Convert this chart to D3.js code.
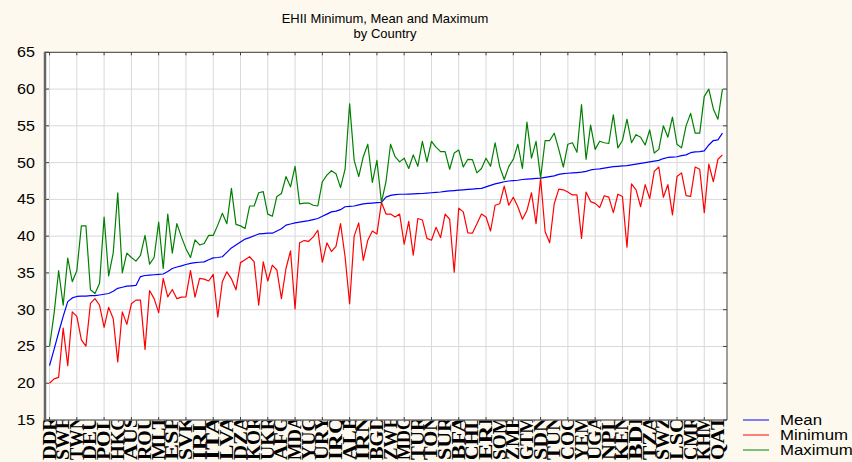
<!DOCTYPE html>
<html><head><meta charset="utf-8">
<script src="https://cdn.jsdelivr.net/npm/d3@7"></script>
<style>html,body{margin:0;padding:0;background:#fdf9ef;} svg{display:block;}</style>
</head><body><svg id="c" width="852" height="462"></svg>
<script>
const titleLines = ["EHII Minimum, Mean and Maximum", "by Country"];
const yTicks = [15, 20, 25, 30, 35, 40, 45, 50, 55, 60, 65];
// every third country code is legible on the axis
const countryLabels = ["DDR","SWE","TWN","DEU","POL","HKG","AUS","ROU","MLT","ESP",
  "SVK","IRL","ITA","LVA","DZA","KOR","UKR","AFG","MDA","YUG",
  "URY","IRQ","ALB","IRN","BGD","ZWE","MDG","TUR","TON","SUR",
  "BFA","CHL","ERI","SOM","ZMB","GTM","SDN","TUN","COG","YEM",
  "UGA","NPL","KEN","BDI","TZA","SWZ","LSO","CMR","KHM","QAT"];
const seriesNames = ["Mean", "Minimum", "Maximum"];
const seriesColors = ["#0000ff", "#ff0000", "#008000"];

const meanValues = [22.4,24.6,26.9,29.1,31.1,31.6,31.8,31.85,31.85,31.9,
 31.9,32.0,32.1,32.2,32.5,32.9,33.05,33.2,33.25,33.3,
 34.5,34.65,34.7,34.75,34.8,34.85,35.2,35.6,35.8,35.95,
 36.15,36.3,36.4,36.45,36.5,36.8,37.05,37.1,37.2,37.8,
 38.4,38.8,39.2,39.6,39.8,40.05,40.3,40.35,40.4,40.4,
 40.7,41.0,41.5,41.65,41.8,41.9,42.0,42.1,42.25,42.4,
 42.7,43.0,43.3,43.4,43.6,44.0,44.05,44.1,44.25,44.4,
 44.45,44.5,44.55,44.6,45.3,45.55,45.65,45.7,45.7,45.72,
 45.75,45.77,45.8,45.85,45.9,45.95,46.0,46.1,46.15,46.2,
 46.25,46.3,46.35,46.4,46.45,46.5,46.7,46.9,47.1,47.25,
 47.4,47.5,47.55,47.6,47.7,47.75,47.8,47.85,47.9,48.0,
 48.1,48.2,48.4,48.5,48.55,48.6,48.65,48.7,48.8,49.0,
 49.1,49.15,49.25,49.35,49.45,49.5,49.55,49.6,49.7,49.8,
 49.9,50.0,50.1,50.2,50.3,50.55,50.7,50.75,50.8,50.95,
 51.05,51.35,51.45,51.5,51.6,52.4,53.0,53.1,54.0];
const minValues = [20.0,20.6,20.8,27.5,22.4,29.7,29.1,25.9,25.05,30.85,
 31.5,30.6,27.6,30.3,28.8,22.9,29.7,28.0,30.8,31.3,
 31.3,24.6,32.6,31.5,29.6,34.25,31.75,32.75,31.5,31.7,
 31.75,35.3,31.7,34.25,34.15,33.9,34.8,29.0,33.8,35.15,
 34.2,32.7,36.4,36.8,37.2,36.5,30.6,36.5,33.9,36.05,
 35.4,31.5,35.6,38.0,30.1,39.1,39.4,39.3,39.9,40.8,
 36.45,39.1,37.9,38.6,41.7,37.2,30.8,40.0,41.8,36.7,
 39.45,40.7,40.3,44.6,43.0,43.0,42.6,43.0,38.9,42.0,
 37.4,42.4,42.2,39.7,39.45,41.2,39.8,43.0,42.3,35.1,
 43.8,43.3,40.45,40.4,41.7,43.0,42.6,40.7,44.2,44.4,
 46.8,44.2,45.3,44.0,42.3,43.5,45.9,41.7,47.9,40.6,
 39.1,44.4,46.4,46.3,46.0,45.6,45.6,39.7,46.0,44.7,
 44.45,43.9,45.5,45.3,43.2,45.7,45.4,38.5,47.1,46.3,
 44.0,47.0,45.1,48.8,49.4,45.3,47.0,42.9,48.1,48.6,
 45.5,45.4,49.4,49.1,43.2,49.8,47.4,50.45,51.05];
const maxValues = [25.0,29.5,35.3,30.6,37.0,33.8,35.3,41.4,41.4,32.7,
 32.2,33.6,42.6,34.6,37.7,45.9,35.0,37.7,37.1,36.6,
 37.4,40.1,36.2,37.1,41.9,35.6,43.0,37.7,41.7,39.9,
 38.3,37.1,39.5,38.8,39.0,40.1,40.1,41.5,43.1,41.7,
 46.5,41.6,41.4,41.05,44.1,44.1,45.9,46.05,43.0,42.7,
 45.4,45.8,48.1,46.7,49.5,44.4,44.5,44.5,44.2,44.1,
 47.4,48.3,48.9,48.5,46.6,49.1,58.0,50.3,48.1,50.8,
 52.5,47.3,50.3,44.6,47.4,52.5,50.8,50.1,50.6,49.2,
 51.05,49.5,52.9,50.1,52.9,52.1,51.5,51.5,49.1,51.3,
 51.7,49.4,50.45,50.4,48.6,49.2,50.6,49.5,52.7,49.45,
 47.7,49.45,50.45,52.5,49.2,55.5,50.6,52.9,47.9,53.0,
 53.0,54.0,51.8,49.4,52.5,52.7,51.4,57.9,50.45,55.1,
 51.8,52.9,52.7,52.6,56.5,52.0,53.0,55.9,52.7,53.8,
 53.45,52.4,54.45,51.3,51.8,55.0,53.45,56.2,52.5,52.0,
 55.0,56.7,54.0,54.0,59.0,60.0,57.3,55.9,60.0];

const seriesValues = [meanValues, minValues, maxValues];
const N = meanValues.length;
const labelStep = 3, gridStep = 6;

const svg = d3.select("#c");
const W = 852, H = 462;
const plot = {left: 45, right: 727, top: 52.3, bottom: 420};
const x = d3.scaleLinear().domain([-1, N]).range([plot.left, plot.right]);
const y = d3.scaleLinear().domain([15, 65]).range([plot.bottom, plot.top]);
const FONT = "Arial, 'Liberation Sans', sans-serif";

svg.append("rect").attr("width", W).attr("height", H).attr("fill", "#fdf9ef");

function stext(g, str, px, py, size, sx, anchor) {
  return g.append("text").text(str)
    .attr("transform", `translate(${px},${py}) scale(${sx},1)`)
    .attr("text-anchor", anchor || "start")
    .attr("font-family", FONT).attr("font-size", size).attr("fill", "#000");
}

// category labels (drawn under the plot panel)
const lab = svg.append("g");
countryLabels.forEach((c, k) => {
  const xi = x(k * labelStep);
  lab.append("text").text(c)
    .attr("transform", `translate(${xi + 6},460) rotate(-90)`)
    .attr("font-family", "'Liberation Serif', 'Times New Roman', serif")
    .attr("font-weight", "bold")
    .attr("font-size", 18)
    .attr("textLength", 44).attr("lengthAdjust", "spacingAndGlyphs")
    .attr("fill", "#000");
});

// plot panel
svg.append("rect").attr("x", plot.left).attr("y", 0).attr("width", plot.right - plot.left)
  .attr("height", plot.top).attr("fill", "#fdf9ef");
svg.append("rect").attr("x", plot.left).attr("y", plot.top)
  .attr("width", plot.right - plot.left).attr("height", plot.bottom - plot.top)
  .attr("fill", "#ffffff");

const grid = svg.append("g").attr("stroke", "#d9d9d9").attr("stroke-width", 1);
const vgrid = d3.range(0, N, gridStep);
vgrid.forEach(i => grid.append("line").attr("x1", x(i)).attr("x2", x(i))
  .attr("y1", plot.top).attr("y2", plot.bottom));
yTicks.forEach(v => grid.append("line").attr("x1", plot.left).attr("x2", plot.right)
  .attr("y1", y(v)).attr("y2", y(v)));

// series lines
seriesValues.forEach((vals, s) => {
  const line = d3.line().x((d, i) => x(i)).y(d => y(d));
  svg.append("path").datum(vals).attr("d", line)
    .attr("fill", "none").attr("stroke", seriesColors[s])
    .attr("stroke-width", 1.2).attr("stroke-linejoin", "round");
});

// frame
const fr = svg.append("g").attr("stroke", "#404040").attr("stroke-width", 1);
fr.append("line").attr("x1", plot.left).attr("x2", plot.right).attr("y1", plot.top).attr("y2", plot.top);
fr.append("line").attr("x1", plot.right).attr("x2", plot.right).attr("y1", plot.top).attr("y2", plot.bottom);
fr.append("line").attr("x1", plot.left).attr("x2", plot.right).attr("y1", plot.bottom).attr("y2", plot.bottom);
svg.append("line").attr("x1", plot.left).attr("x2", plot.left).attr("y1", plot.top - 0.5).attr("y2", plot.bottom + 0.5)
  .attr("stroke", "#666").attr("stroke-width", 2.5);
vgrid.forEach(i => {
  fr.append("line").attr("x1", x(i)).attr("x2", x(i)).attr("y1", plot.top).attr("y2", plot.top + 3);
  fr.append("line").attr("x1", x(i)).attr("x2", x(i)).attr("y1", plot.bottom).attr("y2", plot.bottom - 3);
});
yTicks.forEach(v => {
  fr.append("line").attr("x1", plot.left).attr("x2", plot.left + 4).attr("y1", y(v)).attr("y2", y(v));
  fr.append("line").attr("x1", plot.right).attr("x2", plot.right - 4).attr("y1", y(v)).attr("y2", y(v));
});

// y tick labels
const yl = svg.append("g");
yTicks.forEach(v => stext(yl, String(v), 35, y(v) + 5, 14, 1.15, "end"));

// title
const tg = svg.append("g");
stext(tg, titleLines[0], 385, 23, 13, 1.0, "middle");
stext(tg, titleLines[1], 385, 38, 13, 1.0, "middle");

// legend
const lg = svg.append("g");
const legendY = [420, 435, 450];
seriesNames.forEach((n, s) => {
  lg.append("line").attr("x1", 743).attr("x2", 769).attr("y1", legendY[s]).attr("y2", legendY[s])
    .attr("stroke", seriesColors[s]).attr("stroke-width", 1.5).attr("opacity", 0.65);
  stext(lg, n, 780, legendY[s] + 5, 14, 1.2, "start");
});
</script></body></html>
